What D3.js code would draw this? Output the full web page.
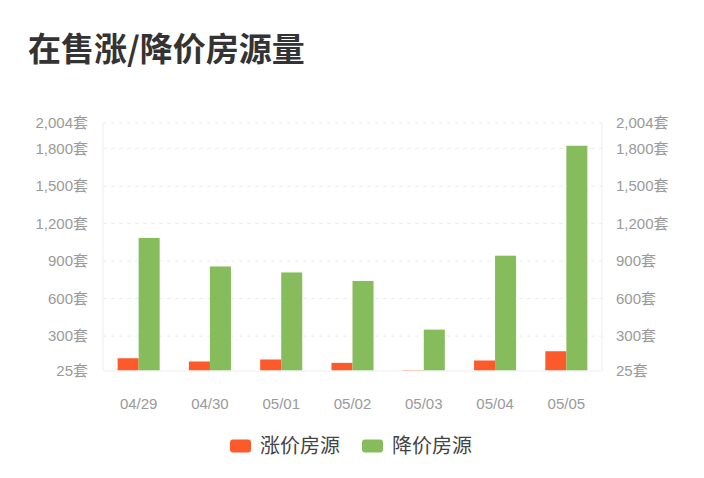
<!DOCTYPE html>
<meta charset="utf-8">
<script src="https://d3js.org/d3.v7.min.js"></script>
<style>
  body { margin: 0; background: #fff; }
  text { font-family: "Liberation Sans", "Noto Sans CJK SC", sans-serif; }
</style>
<div id="chart"></div>
<script>

// data
var days = ["04/29", "04/30", "05/01", "05/02", "05/03", "05/04", "05/05"];
var seriesNames = ["涨价房源", "降价房源"];
var rise = [123, 97, 113, 86, 29, 105, 179];
var fall = [1085, 857, 809, 741, 352, 943, 1822];
var yTicks = [25, 300, 600, 900, 1200, 1500, 1800, 2004];
var colors = ["#fd5a2c", "#87bc5d"];

var width = 704, height = 478;
var plot = {left: 103, right: 602, top: 123, bottom: 370.5};

var svg = d3.select("#chart").append("svg")
  .attr("width", width)
  .attr("height", height);

// title
svg.append("text")
  .attr("x", 28)
  .attr("y", 61)
  .style("font-size", "33px")
  .style("font-weight", "bold")
  .style("font-family", "'Noto Sans CJK SC', sans-serif")
  .attr("fill", "#333")
  .text("在售涨/降价房源量");

// scales
var x0 = d3.scaleBand()
  .domain(days)
  .range([plot.left, plot.right])
  .paddingInner(0.41)
  .paddingOuter(0.205);

var x1 = d3.scaleBand()
  .domain([0, 1])
  .range([0, x0.bandwidth()]);

var y = d3.scaleLinear()
  .domain([25, 2004])
  .range([plot.bottom, plot.top]);

// grid lines
svg.append("g")
  .selectAll("line")
  .data(yTicks.slice(1))
  .enter().append("line")
    .attr("x1", plot.left)
    .attr("x2", plot.right)
    .attr("y1", function(d) { return y(d); })
    .attr("y2", function(d) { return y(d); })
    .attr("stroke", "#ececec")
    .attr("stroke-dasharray", "4,4");

// frame sides
svg.append("g").selectAll("line")
  .data([plot.left, plot.right])
  .enter().append("line")
    .attr("x1", function(d) { return d; })
    .attr("x2", function(d) { return d; })
    .attr("y1", plot.top)
    .attr("y2", plot.bottom)
    .attr("stroke", "#eeeeee");

// left + right axes
var fmt = d3.format(",");
var yLeft = d3.axisLeft(y).tickValues(yTicks).tickSize(0).tickPadding(15)
  .tickFormat(function(d) { return fmt(d) + "套"; });
var yRight = d3.axisRight(y).tickValues(yTicks).tickSize(0).tickPadding(14)
  .tickFormat(function(d) { return fmt(d) + "套"; });

svg.append("g")
  .attr("transform", "translate(" + plot.left + ",0)")
  .call(yLeft)
  .call(function(g) { g.select(".domain").remove(); });

svg.append("g")
  .attr("transform", "translate(" + plot.right + ",0)")
  .call(yRight)
  .call(function(g) { g.select(".domain").remove(); });

svg.selectAll(".tick text")
  .attr("fill", "#9a9a9a")
  .style("font-size", "15px");

// bars
var groups = svg.append("g")
  .selectAll("g")
  .data(days)
  .enter().append("g")
    .attr("transform", function(d) { return "translate(" + x0(d) + ",0)"; });

groups.selectAll("rect")
  .data(function(d, i) { return [rise[i], fall[i]]; })
  .enter().append("rect")
    .attr("x", function(d, j) { return x1(j); })
    .attr("y", function(d) { return y(d); })
    .attr("width", x1.bandwidth())
    .attr("height", function(d) { return plot.bottom - y(d); })
    .attr("fill", function(d, j) { return colors[j]; });

// x axis
var xAxis = d3.axisBottom(x0).tickSize(0).tickPadding(28);
svg.append("g")
  .attr("transform", "translate(0," + plot.bottom + ")")
  .call(xAxis)
  .call(function(g) {
    g.select(".domain").attr("stroke", "#eeeeee");
    g.selectAll("text").attr("fill", "#9a9a9a").style("font-size", "15px");
  });

// legend
var legend = svg.append("g").attr("transform", "translate(230,446)");
var itemX = [0, 132];
var item = legend.selectAll("g")
  .data(seriesNames)
  .enter().append("g")
    .attr("transform", function(d, i) { return "translate(" + itemX[i] + ",0)"; });

item.append("rect")
  .attr("x", 0)
  .attr("y", -6.5)
  .attr("width", 21)
  .attr("height", 13)
  .attr("rx", 3)
  .attr("fill", function(d, i) { return colors[i]; });

item.append("text")
  .attr("x", 30)
  .attr("dy", "0.35em")
  .style("font-size", "20px")
  .style("font-family", "'Noto Sans CJK SC', sans-serif")
  .attr("fill", "#444")
  .text(function(d) { return d; });

</script>
